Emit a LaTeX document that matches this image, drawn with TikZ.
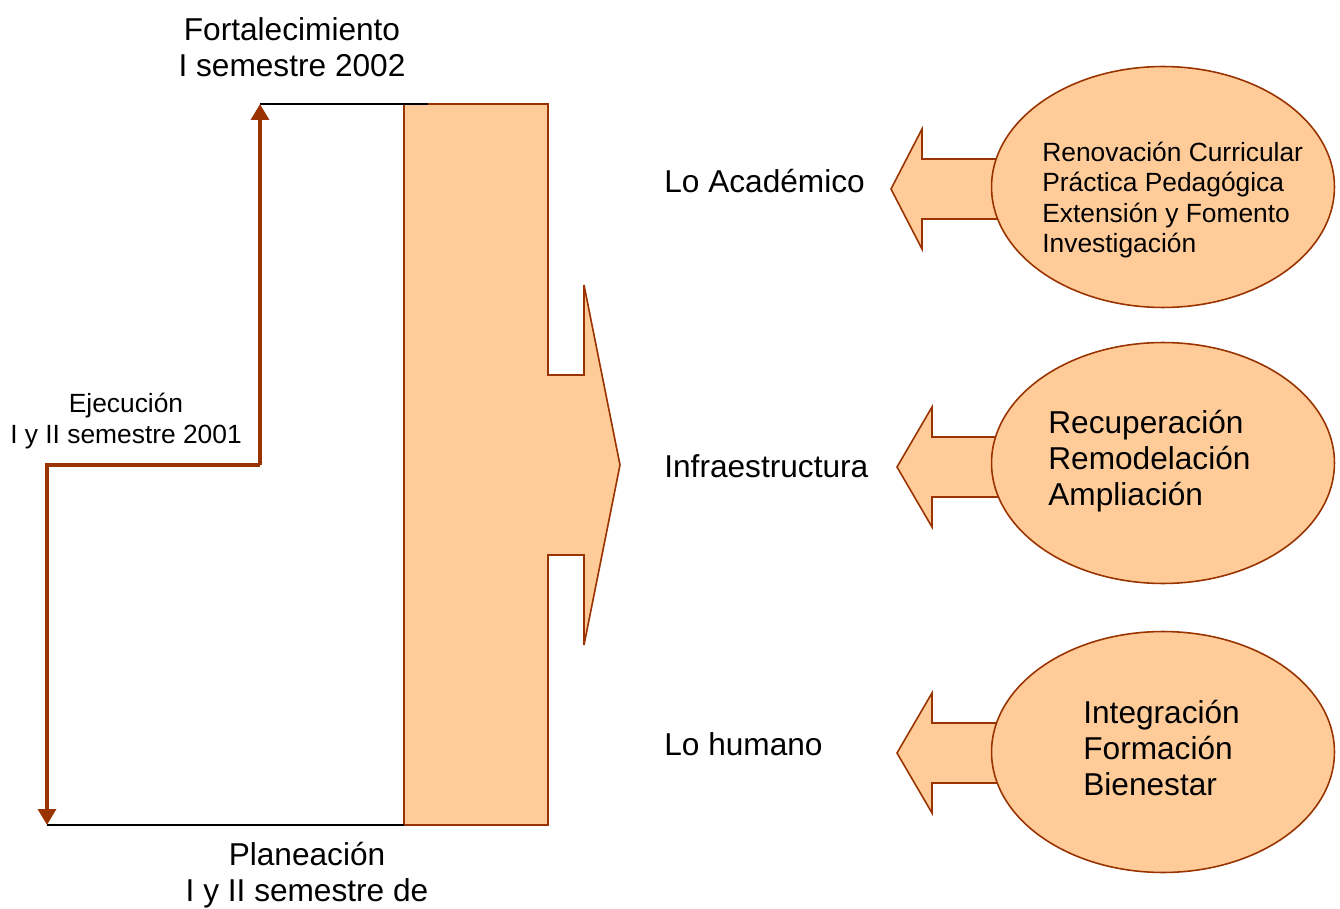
\documentclass[tikz,border=0pt]{standalone}
\usepackage{fontspec}
\setmainfont{Liberation Sans}
\usetikzlibrary{arrows.meta, shapes.geometric}
\definecolor{peach}{HTML}{FFCC99}
\definecolor{rust}{HTML}{993300}

\begin{document}
\begin{tikzpicture}[
    x=0.02cm, y=-0.02cm,
    blockarrow/.style={draw=rust, fill=peach, line width=0.9pt, line join=miter},
    bubble/.style={ellipse, draw=rust, fill=peach, line width=0.9pt, minimum width=6.86cm, minimum height=4.82cm, inner sep=0pt},
    bigtxt/.style={font=\fontsize{18}{20.5}\selectfont, align=center, inner sep=0pt},
    smalltxt/.style={font=\fontsize{15}{17.4}\selectfont, align=left, inner sep=0pt},
    arrow/.style={-{Triangle[width=10pt,length=9pt]}, draw=rust, line width=2.2pt},
    rule/.style={draw=black, line width=0.9pt}
]
\useasboundingbox (0,0) rectangle (1340,909);

% Big block arrow
\draw[blockarrow] (404,104) -- (548,104) -- (548,375) -- (584,375) -- (584,285) -- (620,465)
    -- (584,645) -- (584,555) -- (548,555) -- (548,825) -- (404,825) -- cycle;

% Stages
\coordinate (fo) at (260,104);
\coordinate (ej) at (260,465);
\coordinate (pl) at (47,825);
\coordinate (bartop) at (428,104);
\coordinate (barbot) at (404,825);

\draw[rule] (pl) -- (barbot);
\draw[rule] (fo) -- (bartop);
\draw[arrow] (ej) -| (pl);
\draw[arrow] (ej) -- (fo);

\node[bigtxt] (fort) at (292,47) {Fortalecimiento\\I semestre 2002};
\node[smalltxt, align=center] (ejec) at (126,421) {Ejecución\\I y II semestre 2001};
\node[bigtxt] (plan) at (307,875) {Planeación\\I y II semestre de};

% Left arrows
\draw[blockarrow] (891,189) -- (922,129) -- (922,159) -- (1050,159) -- (1050,219) -- (922,219) -- (922,249) -- cycle;
\draw[blockarrow] (897,467) -- (932,407) -- (932,437) -- (1050,437) -- (1050,497) -- (932,497) -- (932,527) -- cycle;
\draw[blockarrow] (897,753) -- (932,693) -- (932,723) -- (1050,723) -- (1050,783) -- (932,783) -- (932,813) -- cycle;

% Ellipses
\node[bubble] (aca) at (1163,187) {};
\node[bubble] (inf) at (1163,463) {};
\node[bubble] (hum) at (1163,752) {};

\node[smalltxt, anchor=west] (acatxt) at (1042,200) {Renovación Curricular\\Práctica Pedagógica\\Extensión y Fomento\\Investigación};
\node[bigtxt, align=left, anchor=west] (inftxt) at (1048,461) {Recuperación\\Remodelación\\Ampliación};
\node[bigtxt, align=left, anchor=west] (humtxt) at (1083,748) {Integración\\Formación\\Bienestar};

% Areas
\node[bigtxt, anchor=west] (lacad) at (664,181) {Lo Académico};
\node[bigtxt, anchor=west] (linf) at (664,466) {Infraestructura};
\node[bigtxt, anchor=west] (lhum) at (664,744) {Lo humano};

\end{tikzpicture}
\end{document}
